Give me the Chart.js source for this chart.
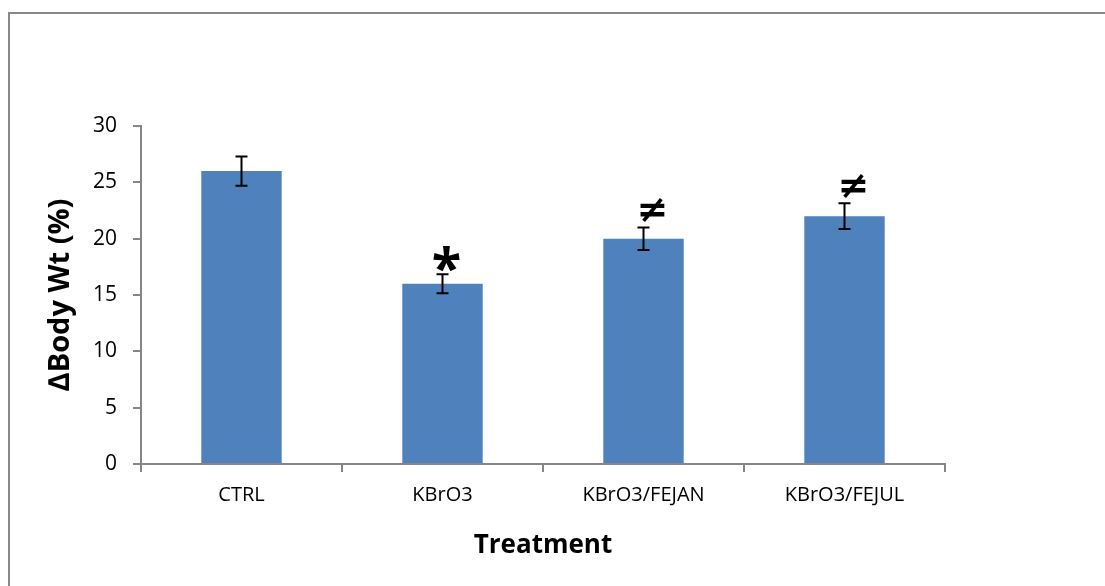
<!DOCTYPE html>
<html>
<head>
<meta charset="utf-8">
<script src="https://cdn.jsdelivr.net/npm/chart.js@4.4.0/dist/chart.umd.min.js"></script>
<style>
  html, body { margin: 0; padding: 0; background: #fff; }
  #wrap { position: relative; width: 1105px; height: 586px; }
  #frame { position: absolute; left: 8px; top: 12px; right: 0; bottom: 0;
           border-top: 2px solid #888; border-left: 2px solid #888; pointer-events: none; }
</style>
</head>
<body>
<div id="wrap">
  <canvas id="bwChart" width="1105" height="586"></canvas>
  <div id="frame"></div>
</div>
<script>
// data
const treatments = ["CTRL", "KBrO3", "KBrO3/FEJAN", "KBrO3/FEJUL"];
const bodyWtGain = [26, 16, 20, 22];
const bodyWtErr = [1.3, 0.85, 1.0, 1.15];
const sigMarks = ["", "*", "\u2260", "\u2260"];
const yTicks = [0, 5, 10, 15, 20, 25, 30];

const axisGrey = "#868686";
const font = "'Open Sans', 'Noto Sans', sans-serif";

// error bars + significance symbols
const errorBars = {
  id: "errorBars",
  afterDatasetsDraw(chart) {
    const ctx = chart.ctx;
    const x = chart.scales.x, y = chart.scales.y;
    ctx.save();
    ctx.strokeStyle = "#000";
    ctx.lineWidth = 2;
    bodyWtGain.forEach((v, i) => {
      const cx = x.getPixelForValue(i);
      const top = y.getPixelForValue(v + bodyWtErr[i]);
      const bot = y.getPixelForValue(v - bodyWtErr[i]);
      ctx.beginPath();
      ctx.moveTo(cx, top); ctx.lineTo(cx, bot);
      ctx.moveTo(cx - 6, top); ctx.lineTo(cx + 6, top);
      ctx.moveTo(cx - 6, bot); ctx.lineTo(cx + 6, bot);
      ctx.stroke();
      if (sigMarks[i]) {
        ctx.fillStyle = "#000";
        ctx.textAlign = "center";
        ctx.textBaseline = "alphabetic";
        if (sigMarks[i] === "*") {
          ctx.font = "bold 54px " + font;
          ctx.fillText(sigMarks[i], cx + 4, top + 13);
        } else {
          ctx.font = "bold 38px 'DejaVu Sans', sans-serif";
          ctx.fillText(sigMarks[i], cx + 9, top - 5);
        }
      }
    });
    ctx.restore();
  }
};

new Chart(document.getElementById("bwChart"), {
  type: "bar",
  data: {
    labels: treatments,
    datasets: [{
      data: bodyWtGain,
      backgroundColor: "#4F81BD",
      borderWidth: 0,
      categoryPercentage: 1.0,
      barPercentage: 0.4
    }]
  },
  options: {
    responsive: false,
    animation: false,
    layout: { padding: { top: 126, right: 160, bottom: 0, left: 0 } },
    plugins: { legend: { display: false }, tooltip: { enabled: false } },
    scales: {
      x: {
        grid: { display: true, drawOnChartArea: false, drawTicks: true, tickLength: 8, color: axisGrey, lineWidth: 2 },
        border: { display: true, color: axisGrey, width: 2 },
        ticks: { color: "#000", font: { family: font, size: 20 }, padding: 11, maxRotation: 0 },
        title: { display: true, text: "Treatment", color: "#000",
                 font: { family: font, size: 26, weight: "bold" }, padding: { top: 0, bottom: 25 } },
        afterFit(s) { s.height = 122; }
      },
      y: {
        min: 0, max: 30,
        afterBuildTicks(s) { s.ticks = yTicks.map(v => ({ value: v })); },
        grid: { display: true, drawOnChartArea: false, drawTicks: true, tickLength: 8, color: axisGrey, lineWidth: 2 },
        border: { display: true, color: axisGrey, width: 2 },
        ticks: { color: "#000", font: { family: font, size: 21 }, padding: 16 },
        title: { display: true, text: "\u2206Body Wt (%)", color: "#000",
                 font: { family: font, size: 29, weight: "bold" }, padding: { top: 43, bottom: 0 } },
        afterFit(s) { s.width = 141; }
      }
    }
  },
  plugins: [errorBars]
});
</script>
</body>
</html>
